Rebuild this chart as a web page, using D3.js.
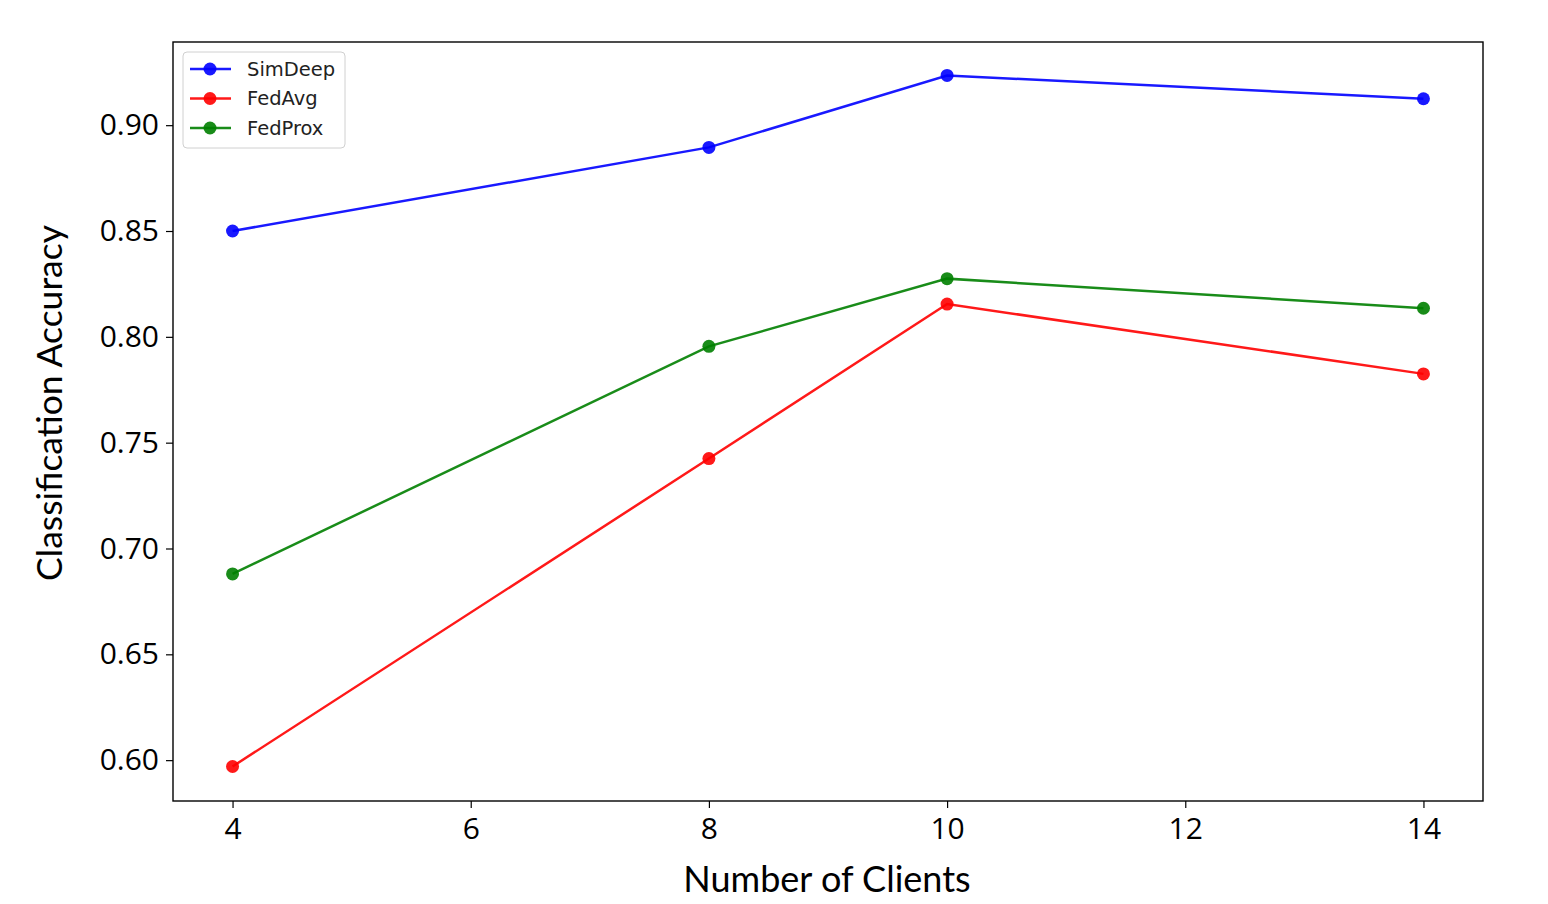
<!DOCTYPE html>
<html><head><meta charset="utf-8">
<script src="https://cdn.jsdelivr.net/npm/d3@7"></script>
<style>body{margin:0;background:#fff;} svg{display:block;}</style>
</head><body>
<svg id="chart" width="1548" height="904"></svg>
<script>
const clients = [4, 8, 10, 14];
const simDeep = [0.850, 0.8895, 0.9235, 0.9125];
const fedAvg = [0.597, 0.7425, 0.8155, 0.7825];
const fedProx = [0.688, 0.7955, 0.8275, 0.8135];
const seriesNames = ["SimDeep", "FedAvg", "FedProx"];
const seriesColors = ["#0000ff", "#ff0000", "#008000"];
const xTicks = [4, 6, 8, 10, 12, 14];
const yTicks = [0.60, 0.65, 0.70, 0.75, 0.80, 0.85, 0.90];

const series = [simDeep, fedAvg, fedProx];
const svg = d3.select("#chart");
const L = 173, R = 1483, T = 42, B = 801;
const x = d3.scaleLinear().domain([3.5, 14.5]).range([L, R]);
const y = d3.scaleLinear().domain([0.5807, 0.9393]).range([B, T]);

const tickFont = "'Open Sans', sans-serif";
const xa = svg.append("g").attr("transform", `translate(0,${B})`)
  .call(d3.axisBottom(x).tickValues(xTicks).tickFormat(d3.format("d")).tickSize(7).tickPadding(10));
const ya = svg.append("g").attr("transform", `translate(${L},0)`)
  .call(d3.axisLeft(y).tickValues(yTicks).tickFormat(d3.format(".2f")).tickSize(7).tickPadding(7));
[xa, ya].forEach(a => {
  a.select(".domain").remove();
  a.selectAll("line").attr("stroke", "#000").attr("stroke-width", 1.2);
  a.selectAll("text").attr("font-family", tickFont).attr("font-size", 30).attr("fill", "#000");
});

svg.append("rect").attr("x", L).attr("y", T).attr("width", R - L).attr("height", B - T)
  .attr("fill", "none").attr("stroke", "#000").attr("stroke-width", 1.4);

const line = d3.line().x((d, i) => x(clients[i])).y(d => y(d));
series.forEach((s, k) => {
  svg.append("path").datum(s).attr("d", line).attr("fill", "none")
    .attr("stroke", seriesColors[k]).attr("stroke-width", 2.5).attr("stroke-opacity", 0.9);
  svg.selectAll(null).data(s).enter().append("circle")
    .attr("cx", (d, i) => x(clients[i])).attr("cy", d => y(d)).attr("r", 6.5)
    .attr("fill", seriesColors[k]).attr("fill-opacity", 0.9);
});

// legend
const lg = svg.append("g");
lg.append("rect").attr("x", 183).attr("y", 52).attr("width", 162).attr("height", 96).attr("rx", 4)
  .attr("fill", "#fff").attr("fill-opacity", 0.8).attr("stroke", "#d0d0d0").attr("stroke-width", 1);
seriesNames.forEach((n, k) => {
  const yy = 69 + k * 29.5;
  lg.append("line").attr("x1", 190).attr("x2", 231).attr("y1", yy).attr("y2", yy)
    .attr("stroke", seriesColors[k]).attr("stroke-width", 2.5).attr("stroke-opacity", 0.9);
  lg.append("circle").attr("cx", 210).attr("cy", yy).attr("r", 6.5).attr("fill", seriesColors[k]).attr("fill-opacity", 0.9);
  lg.append("text").attr("x", 247).attr("y", yy).attr("dy", "0.35em")
    .attr("font-family", "'DejaVu Sans', sans-serif").attr("font-size", 19.5).attr("fill", "#222").text(n);
});

svg.append("text").attr("x", 827).attr("y", 892).attr("text-anchor", "middle")
  .attr("font-family", "Lato, 'Open Sans', sans-serif").attr("font-size", 36).attr("fill", "#000")
  .text("Number of Clients");
svg.append("text").attr("transform", `translate(62,403) rotate(-90)`).attr("text-anchor", "middle")
  .attr("font-family", "Lato, 'Open Sans', sans-serif").attr("font-size", 35.5).attr("fill", "#000")
  .text("Classification Accuracy");
</script>
</body></html>
